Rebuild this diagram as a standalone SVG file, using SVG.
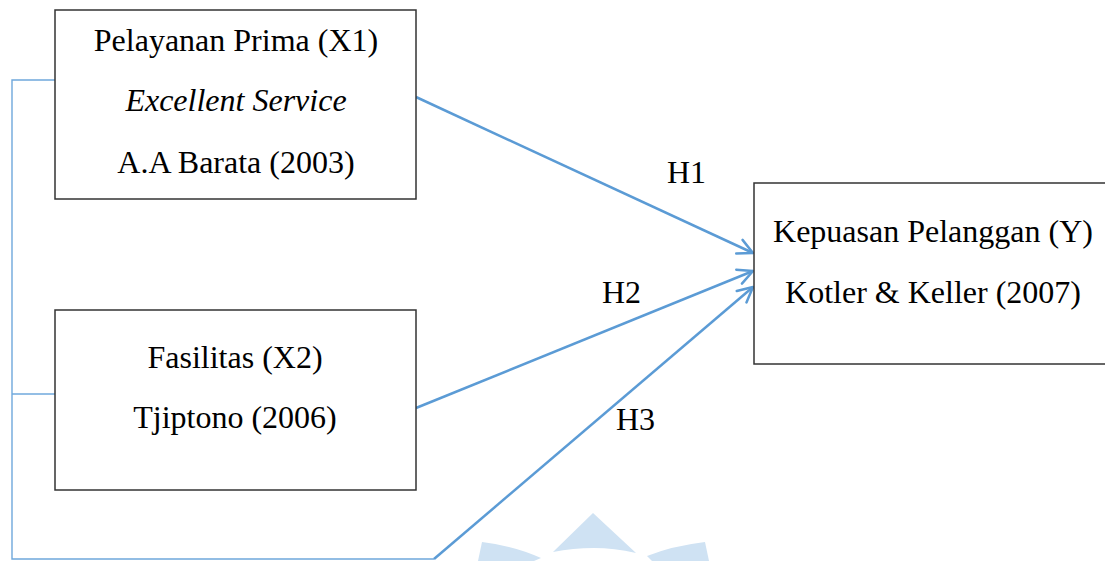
<svg xmlns="http://www.w3.org/2000/svg" width="1105" height="561" viewBox="0 0 1105 561">
  <style>
    .box { fill: #ffffff; stroke: #333333; stroke-width: 1.5; }
    .lbl { font-family: "Liberation Serif", "Times New Roman", serif; font-size: 32px; fill: #000000; text-anchor: middle; }
    .it { font-style: italic; }
    .hyp { font-family: "Liberation Serif", "Times New Roman", serif; font-size: 32px; fill: #000000; }
    .arrow { fill: none; stroke: #5B9BD5; stroke-width: 2.5; marker-end: url(#open); }
    .bracket { fill: none; stroke: #6FA8DC; stroke-width: 1.4; }
    .mark { fill: #CFE2F3; }
  </style>
  <defs>
    <marker id="open" markerUnits="userSpaceOnUse" markerWidth="22" markerHeight="22" refX="18" refY="10" orient="auto">
      <path d="M3,2.5 L18,10 L3,17.5" fill="none" stroke="#5B9BD5" stroke-width="2.5" stroke-linecap="round" stroke-linejoin="round"/>
    </marker>
  </defs>

  <!-- faint emblem at the bottom -->
  <g id="emblem">
    <path class="mark" d="M593,513 L636,553 Q614,548 594,548 Q573,548 553,552 Z"/>
    <path class="mark" d="M482,542 Q515,546 541,558 L534,561 L478,561 Z"/>
    <path class="mark" d="M705,542 Q672,546 647,556 L652,561 L709,561 Z"/>
  </g>

  <!-- left bracket joining the independent variables -->
  <g id="connectors">
    <path class="bracket" d="M55,80 H12 V559 H434"/>
    <path class="bracket" d="M12,394 H55"/>
    <path class="arrow" d="M416,97 L753,253"/>
    <path class="arrow" d="M416,408 L753,271"/>
    <path class="arrow" d="M434,559 L753,287"/>
  </g>

  <g id="x1">
    <rect class="box" x="55" y="10" width="361" height="189"/>
    <text class="lbl" x="236" y="51">Pelayanan Prima (X1)</text>
    <text class="lbl it" x="236" y="111">Excellent Service</text>
    <text class="lbl" x="236" y="173">A.A Barata (2003)</text>
  </g>

  <g id="x2">
    <rect class="box" x="55" y="310" width="361" height="180"/>
    <text class="lbl" x="235" y="368">Fasilitas (X2)</text>
    <text class="lbl" x="235" y="428">Tjiptono (2006)</text>
  </g>

  <g id="y">
    <rect class="box" x="754" y="183" width="360" height="181"/>
    <text class="lbl" x="933" y="242">Kepuasan Pelanggan (Y)</text>
    <text class="lbl" x="933" y="303">Kotler &amp; Keller (2007)</text>
  </g>

  <g id="hypotheses">
    <text class="hyp" x="667" y="183">H1</text>
    <text class="hyp" x="602" y="303">H2</text>
    <text class="hyp" x="616" y="430">H3</text>
  </g>
</svg>
